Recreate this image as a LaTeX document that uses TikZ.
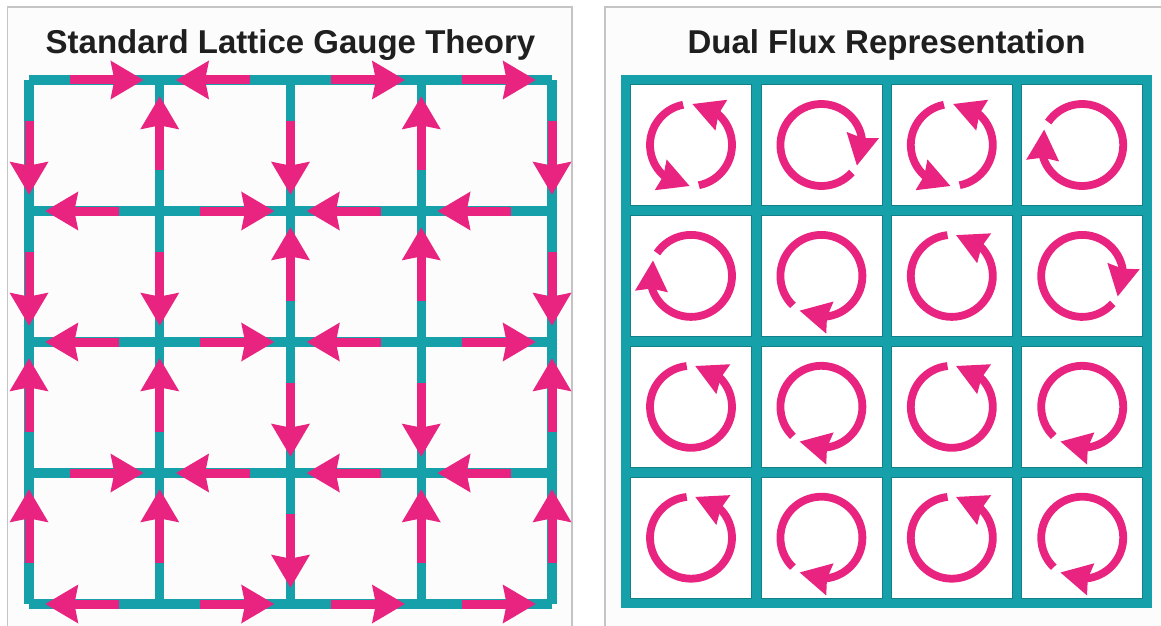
\documentclass[tikz,border=0pt]{standalone}
\usepackage{fontspec}
\setmainfont{Liberation Sans}
\usetikzlibrary{arrows.meta, bending, calc}
\definecolor{latticeteal}{RGB}{22,160,170}
\definecolor{fluxpink}{RGB}{232,36,128}
\definecolor{framegray}{RGB}{196,196,196}

\tikzset{
    panel/.style={draw=framegray, line width=1.2pt, fill=black!1},
    title/.style={font=\fontsize{33}{40}\selectfont\bfseries, text=black!88, anchor=base},
    link/.style={draw=latticeteal, line width=9.3pt, line cap=square},
    flux/.style={draw=fluxpink, line width=9pt,
        -{Stealth[length=33pt, width=39pt, inset=4pt, line width=0pt]}},
    cell/.style={fill=white, draw=latticeteal!80!black, line width=0.6pt,
        minimum size=121pt, inner sep=0pt},
    spin/.style={draw=fluxpink, line width=7.8pt,
        -{Stealth[length=31pt, width=33pt, inset=3pt, line width=0pt, flex]}}
}

\begin{document}
\begin{tikzpicture}[x=1pt, y=1pt]
    \useasboundingbox (0,0) rectangle (1161,625);
    \clip (0,0) rectangle (1161,625);

    % Panels
    \draw[panel] (7.5,-10) rectangle (572,618);
    \draw[panel] (605,-10) rectangle (1180,618);

    % Titles
    \node[title] (lattice-title) at (290.5,571) {Standard Lattice Gauge Theory};
    \node[title] (dual-title) at (886.5,571) {Dual Flux Representation};

    % Lattice sites
    \foreach \i in {0,...,4}
        \foreach \j in {0,...,4}
            \coordinate (v-\i-\j) at (29+130.75*\i, 545-131*\j);

    % Links
    \foreach \k in {0,...,4} {
        \draw[link] (v-\k-0) -- (v-\k-4);
        \draw[link] (v-0-\k) -- (v-4-\k);
    }

    % Link variables (tail/head)
    \foreach \a/\b in {0-0/1-0, 2-0/1-0, 2-0/3-0, 3-0/4-0,
                       1-1/0-1, 1-1/2-1, 3-1/2-1, 4-1/3-1,
                       1-2/0-2, 1-2/2-2, 3-2/2-2, 3-2/4-2,
                       0-3/1-3, 2-3/1-3, 3-3/2-3, 4-3/3-3,
                       1-4/0-4, 1-4/2-4, 2-4/3-4, 3-4/4-4,
                       0-0/0-1, 0-1/0-2, 0-3/0-2, 0-4/0-3,
                       1-1/1-0, 1-1/1-2, 1-3/1-2, 1-4/1-3,
                       2-0/2-1, 2-2/2-1, 2-2/2-3, 2-3/2-4,
                       3-1/3-0, 3-2/3-1, 3-2/3-3, 3-4/3-3,
                       4-0/4-1, 4-1/4-2, 4-3/4-2, 4-4/4-3}
        \draw[flux] ($(v-\a)!0.31!(v-\b)$) -- ($(v-\a)!0.875!(v-\b)$);

    % Dual lattice frame
    \fill[latticeteal] (621,17) rectangle (1152,550);
    \foreach \r in {1,...,4}
        \foreach \c in {1,...,4}
            \node[cell] (p-\r-\c) at (691+130.4*\c-130.4, 480-130.9*\r+130.9) {};

    % Plaquette fluxes (start/end angle)
    \foreach \r/\c/\s/\e in {1/1/101/268, 1/1/-79/88, 1/2/-42/-390,
                             1/3/101/268, 1/3/-79/88, 1/4/146/-202,
                             2/1/146/-202, 2/2/-134/-482, 2/3/96/444, 2/4/-42/-390,
                             3/1/96/444, 3/2/-134/-482, 3/3/96/444, 3/4/-134/-482,
                             4/1/96/444, 4/2/-134/-482, 4/3/96/444, 4/4/-134/-482}
        \draw[spin] ($(p-\r-\c)+(\s:41pt)$) arc[start angle=\s, end angle=\e, radius=41pt];
\end{tikzpicture}
\end{document}
